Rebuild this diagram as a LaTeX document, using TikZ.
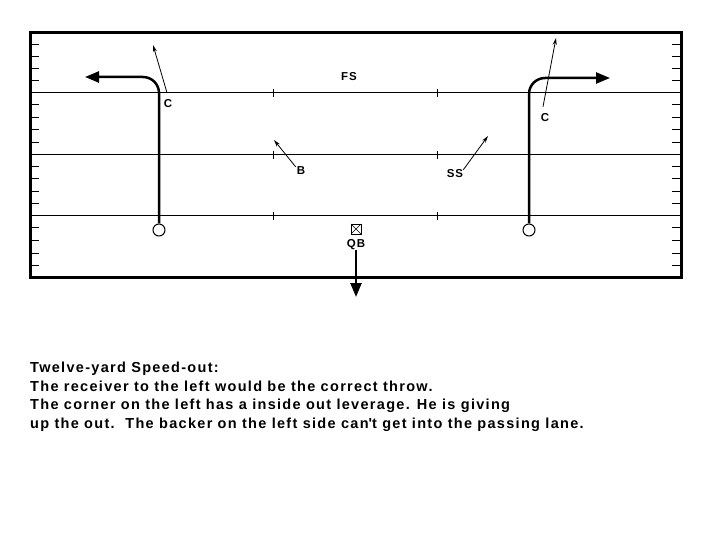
\documentclass[tikz,border=0pt]{standalone}
\usepackage{fontspec}
\setmainfont{Liberation Sans}
\newfontfamily\txtfont[LetterSpace=9]{Liberation Sans}
\newfontfamily\lblfont[LetterSpace=8]{Liberation Sans}
\usetikzlibrary{arrows.meta}
\begin{document}
\begin{tikzpicture}[x=1pt,y=-1pt,
  border/.style={line width=3pt},
  yardline/.style={line width=1pt},
  hash/.style={line width=1pt},
  route/.style={line width=2.5pt, -{Triangle[length=14pt,width=11pt]}},
  read/.style={line width=0.8pt, -{Stealth[length=7pt,width=4pt]}},
  player/.style={circle, draw, line width=1pt, minimum size=12pt, inner sep=0pt},
  lbl/.style={font=\lblfont\fontsize{11.5}{13}\selectfont\bfseries, inner sep=0pt},
  body/.style={font=\txtfont\fontsize{14.5}{18}\selectfont\bfseries, inner sep=0pt, anchor=base west}
]
\useasboundingbox (0,0) rectangle (720,540);
% field
\draw[border] (30,33) rectangle (681,277);
\foreach \y in {93,155,216} {
  \draw[yardline] (30,\y) -- (681,\y);
  \draw[hash] (273,\y-4) -- (273,\y+4);
  \draw[hash] (437,\y-4) -- (437,\y+4);
}
\foreach \y in {45,57,69,81,105,118,130,143,167,179,192,204,228,240,253,265} {
  \draw[hash] (30,\y) -- (39,\y);
  \draw[hash] (672,\y) -- (681,\y);
}
% receivers
\node[player] (lwr) at (159,230) {};
\node[player] (rwr) at (529,230) {};
\coordinate (lout) at (85,77);
\coordinate (rout) at (610,78);
\draw[route, rounded corners=16pt] (lwr.north) -- (159,77) -- (lout);
\draw[route, rounded corners=16pt] (rwr.north) -- (529,78) -- (rout);
% QB
\node[draw, line width=0.8pt, minimum size=10pt, inner sep=0pt,
  path picture={\draw[line width=0.6pt] (path picture bounding box.north west) -- (path picture bounding box.south east)
   (path picture bounding box.north east) -- (path picture bounding box.south west);}] (qb) at (356,229) {};
\node[lbl] (qbl) at (356,245) {QB};
\coordinate (qbdrop) at (356,297);
\draw[route] (qbl.south) -- (qbdrop);
% defenders
\node[lbl] (fs) at (349,77) {FS};
\node[lbl] (lc) at (168,104) {C};
\node[lbl] (rc) at (545,118) {C};
\node[lbl] (lb) at (301,171) {B};
\node[lbl] (ss) at (455,174) {SS};
\coordinate (lcd) at (153,45);
\coordinate (rcd) at (556,38);
\coordinate (lbd) at (274,140);
\coordinate (ssd) at (488,136);
\draw[read] ([shift={(-1,-7)}]lc.north) -- (lcd);
\draw[read] ([shift={(-2,-7)}]rc.north) -- (rcd);
\draw[read] ([shift={(-1,0)}]lb.north west) -- (lbd);
\draw[read] ([shift={(0,0)}]ss.north east) -- (ssd);
% text
\node[body] (t1) at (30,372) {Twelve-yard Speed-out:};
\node[body] (t2) at (30,391) {The receiver to the left would be the correct throw.};
\node[body] (t3) at (30,409.5) {The corner on the left has a inside out leverage. He is giving};
\node[body] (t4) at (30,428) {up the out.\ \ The backer on the left side can\textquotesingle t get into the passing lane.};
\end{tikzpicture}
\end{document}
